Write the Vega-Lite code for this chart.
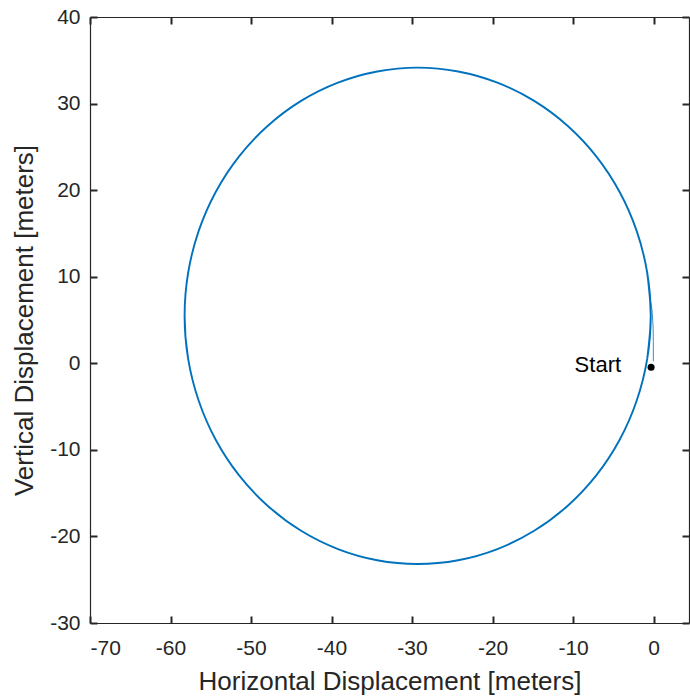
{
  "$schema": "https://vega.github.io/schema/vega-lite/v6.json",
  "width": 599,
  "height": 606,
  "autosize": {"type": "none"},
  "padding": {"left": 90, "top": 17, "right": 1, "bottom": 77},
  "background": "white",
  "view": {"stroke": null},
  "resolve": {"axis": {"x": "independent", "y": "independent"}},
  "config": {
    "font": "Liberation Sans",
    "axis": {
      "grid": false,
      "domainColor": "#262626",
      "domainWidth": 1.2,
      "labelColor": "#262626",
      "labelFont": "Liberation Sans",
      "labelFontSize": 21,
      "labelExpr": "replace(datum.label, '\u2212', '-')",
      "titleColor": "#262626",
      "titleFont": "Liberation Sans",
      "titleFontSize": 26,
      "titleFontWeight": "normal"
    }
  },
  "datasets": {
    "loop": [
      {"i": 0, "x": -0.79, "y": 0.50},
      {"i": 1, "x": -0.35, "y": 5.48},
      {"i": 2, "x": -0.79, "y": 10.46},
      {"i": 3, "x": -2.10, "y": 15.29},
      {"i": 4, "x": -4.23, "y": 19.82},
      {"i": 5, "x": -7.12, "y": 23.91},
      {"i": 6, "x": -10.69, "y": 27.44},
      {"i": 7, "x": -14.83, "y": 30.31},
      {"i": 8, "x": -19.40, "y": 32.42},
      {"i": 9, "x": -24.27, "y": 33.71},
      {"i": 10, "x": -29.30, "y": 34.15},
      {"i": 11, "x": -34.33, "y": 33.71},
      {"i": 12, "x": -39.20, "y": 32.42},
      {"i": 13, "x": -43.78, "y": 30.31},
      {"i": 14, "x": -47.91, "y": 27.44},
      {"i": 15, "x": -51.48, "y": 23.91},
      {"i": 16, "x": -54.37, "y": 19.82},
      {"i": 17, "x": -56.50, "y": 15.29},
      {"i": 18, "x": -57.81, "y": 10.46},
      {"i": 19, "x": -58.25, "y": 5.48},
      {"i": 20, "x": -57.81, "y": 0.50},
      {"i": 21, "x": -56.50, "y": -4.33},
      {"i": 22, "x": -54.37, "y": -8.86},
      {"i": 23, "x": -51.48, "y": -12.95},
      {"i": 24, "x": -47.91, "y": -16.48},
      {"i": 25, "x": -43.78, "y": -19.35},
      {"i": 26, "x": -39.20, "y": -21.46},
      {"i": 27, "x": -34.33, "y": -22.75},
      {"i": 28, "x": -29.30, "y": -23.19},
      {"i": 29, "x": -24.27, "y": -22.75},
      {"i": 30, "x": -19.40, "y": -21.46},
      {"i": 31, "x": -14.83, "y": -19.35},
      {"i": 32, "x": -10.69, "y": -16.48},
      {"i": 33, "x": -7.12, "y": -12.95},
      {"i": 34, "x": -4.23, "y": -8.86},
      {"i": 35, "x": -2.10, "y": -4.33},
      {"i": 36, "x": -0.79, "y": 0.50},
      {"i": 37, "x": -0.35, "y": 5.48},
      {"i": 38, "x": -0.79, "y": 10.46}
    ],
    "lead": [
      {"i": 0, "x": -0.03, "y": 0.23},
      {"i": 1, "x": -0.03, "y": 2.5},
      {"i": 2, "x": -0.06, "y": 4.3},
      {"i": 3, "x": -0.2, "y": 6.2},
      {"i": 4, "x": -0.42, "y": 7.4}
    ],
    "start": [
      {"x": -0.31, "y": -0.45, "label": "Start"}
    ]
  },
  "layer": [
    {
      "data": {"name": "loop"},
      "mark": {"type": "line", "color": "#0072BD", "strokeWidth": 1.9, "interpolate": "catmull-rom"},
      "encoding": {
        "x": {
          "field": "x", "type": "quantitative",
          "scale": {"domain": [-70, 4.4], "nice": false, "zero": false},
          "axis": {"orient": "bottom", "values": [-70, -60, -50, -40, -30, -20, -10, 0], "title": "Horizontal Displacement [meters]", "ticks": false, "labelPadding": 14, "titlePadding": 10}
        },
        "y": {
          "field": "y", "type": "quantitative",
          "scale": {"domain": [-30, 40], "nice": false, "zero": false},
          "axis": {"orient": "left", "values": [-30, -20, -10, 0, 10, 20, 30, 40], "title": "Vertical Displacement [meters]", "ticks": false, "labelPadding": 10, "titlePadding": 12}
        },
        "order": {"field": "i", "type": "quantitative"}
      }
    },
    {
      "data": {"name": "lead"},
      "mark": {"type": "line", "color": "#0072BD", "strokeWidth": 1, "opacity": 0.8},
      "encoding": {
        "x": {
          "field": "x", "type": "quantitative",
          "axis": {"orient": "top", "values": [-70, -60, -50, -40, -30, -20, -10, 0], "labels": false, "ticks": false, "title": null}
        },
        "y": {
          "field": "y", "type": "quantitative",
          "axis": {"orient": "right", "values": [-30, -20, -10, 0, 10, 20, 30, 40], "labels": false, "ticks": false, "title": null}
        },
        "order": {"field": "i", "type": "quantitative"}
      }
    },
    {
      "data": {"name": "start"},
      "mark": {"type": "point", "filled": true, "color": "black", "size": 50, "opacity": 1},
      "encoding": {
        "x": {
          "field": "x", "type": "quantitative",
          "axis": {"orient": "top", "offset": -606, "domain": false, "labels": false, "title": null, "ticks": true, "tickSize": 7, "tickWidth": 2, "tickColor": "#262626", "values": [-70, -60, -50, -40, -30, -20, -10, 0]}
        },
        "y": {
          "field": "y", "type": "quantitative",
          "axis": {"orient": "right", "offset": -599, "domain": false, "labels": false, "title": null, "ticks": true, "tickSize": 7, "tickWidth": 2, "tickColor": "#262626", "values": [-30, -20, -10, 0, 10, 20, 30, 40]}
        }
      }
    },
    {
      "data": {"name": "start"},
      "mark": {"type": "text", "align": "right", "baseline": "middle", "dx": -30, "dy": -2, "fontSize": 22, "color": "black", "font": "Liberation Sans"},
      "encoding": {
        "x": {
          "field": "x", "type": "quantitative",
          "axis": {"orient": "bottom", "offset": -606, "domain": false, "labels": false, "title": null, "ticks": true, "tickSize": 7, "tickWidth": 2, "tickColor": "#262626", "values": [-70, -60, -50, -40, -30, -20, -10, 0]}
        },
        "y": {
          "field": "y", "type": "quantitative",
          "axis": {"orient": "left", "offset": -599, "domain": false, "labels": false, "title": null, "ticks": true, "tickSize": 7, "tickWidth": 2, "tickColor": "#262626", "values": [-30, -20, -10, 0, 10, 20, 30, 40]}
        },
        "text": {"field": "label"}
      }
    }
  ]
}
